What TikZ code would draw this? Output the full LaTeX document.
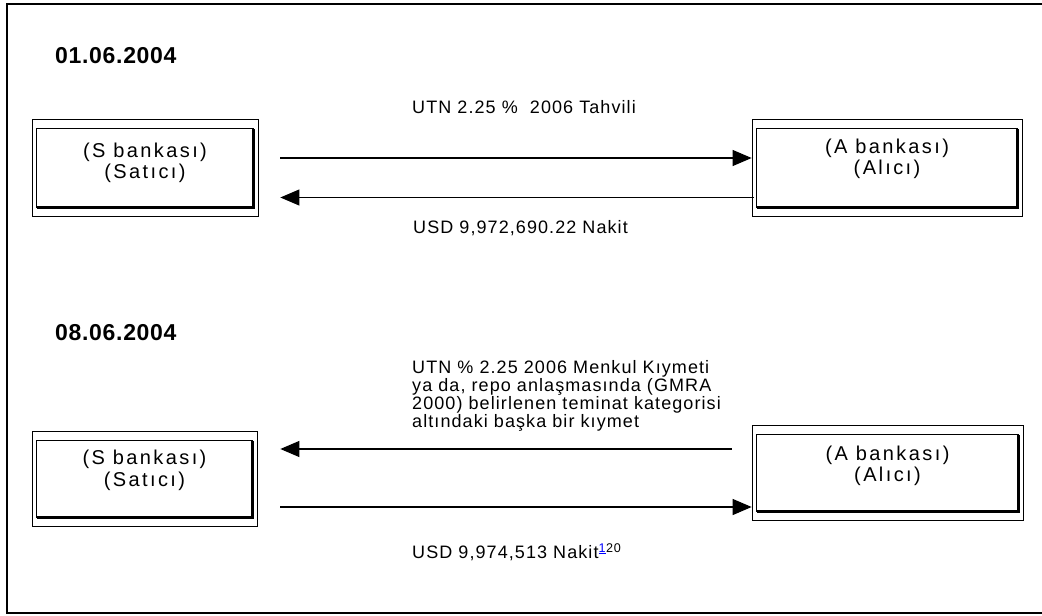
\documentclass[tikz,border=0pt]{standalone}
\usepackage{fontspec}
\setmainfont{Liberation Sans}
\newfontfamily\trackfont{Liberation Sans}[LetterSpace=6]
\newfontfamily\bankfont{Liberation Sans}[LetterSpace=12]
\newfontfamily\datefont{Liberation Sans}[LetterSpace=3]
\usetikzlibrary{positioning,arrows.meta}

\tikzset{
  outerbox/.style={draw,line width=0.7pt,inner sep=0pt},
  bankname/.style={font=\bankfont\fontsize{20}{21.5}\selectfont,align=center,inner sep=0pt},
  flow/.style={line width=1.1pt,-{Triangle[length=19pt,width=16pt]}},
  datelabel/.style={font=\datefont\bfseries\fontsize{23}{24}\selectfont,anchor=base west,inner sep=0pt},
  flowlabel/.style={font=\trackfont\fontsize{18}{16.3}\selectfont,anchor=base west,inner sep=0pt,align=left}
}

\begin{document}
\begin{tikzpicture}[x=1pt,y=-1pt]
\useasboundingbox (0,0) rectangle (1042,616);
\draw[line width=2.4pt] (1042,4) -- (7,4) -- (7,613) -- (1042,613);

% 01.06.2004
\node[datelabel] (date1) at (55,63) {01.06.2004};
\node[outerbox,minimum width=226pt,minimum height=97pt] (s1) at (145,167.5) {};
\node[outerbox,minimum width=270pt,minimum height=97pt] (a1) at (887,167.5) {};
\node[bankname] (s1name) at ([yshift=4.5pt]s1.center) {(S bankası)\\(Satıcı)};
\node[bankname] (a1name) at ([yshift=8.5pt]a1.center) {(A bankası)\\(Alıcı)};
\node[flowlabel] (bond1) at (412,113.5) {UTN 2.25 \%~~2006 Tahvili};
\node[flowlabel] (cash1) at (413,233.5) {USD 9,972,690.22 Nakit};
\draw[flow] ([xshift=22pt,yshift=9.5pt]s1.east) -- ([yshift=9.5pt]a1.west);
\draw[flow] ([xshift=2pt,yshift=-30pt]a1.west) -- ([xshift=22pt,yshift=-30pt]s1.east);

% 08.06.2004
\node[datelabel] (date2) at (55,340) {08.06.2004};
\node[outerbox,minimum width=225pt,minimum height=95pt] (s2) at (144.5,478.5) {};
\node[outerbox,minimum width=271pt,minimum height=95pt] (a2) at (887.5,472.5) {};
\node[bankname] (s2name) at ([yshift=8pt]s2.center) {(S bankası)\\(Satıcı)};
\node[bankname] (a2name) at ([yshift=6.5pt]a2.center) {(A bankası)\\(Alıcı)};
\node[flowlabel,anchor=north west] (bond2) at (412,360.5) {UTN \% 2.25 2006 Menkul Kıymeti\\ya da, repo anlaşmasında (GMRA\\2000) belirlenen teminat kategorisi\\altındaki başka bir kıymet};
\node[flowlabel] (cash2) at (412,558.5) {USD 9,974,513 Nakit\textsuperscript{\textcolor{blue}{\underline{1}}}\textsuperscript{20}};
\coordinate (bond2start) at ([xshift=-20pt,yshift=23.5pt]a2.west);
\draw[flow] (bond2start) -- ([xshift=23pt]s2.east |- bond2start);
\coordinate (cash2start) at ([xshift=23pt,yshift=-28.5pt]s2.east);
\draw[flow] (cash2start) -- (a2.west |- cash2start);

% inner frames with shadow
\foreach \b in {s1,a1,s2,a2} {
  \draw[line width=1.3pt] ([xshift=5pt,yshift=-10pt]\b.north west) rectangle ([xshift=-5pt,yshift=9pt]\b.south east);
  \draw[line width=2.6pt] ([xshift=5pt,yshift=9pt]\b.south west) -- ([xshift=-5pt,yshift=9pt]\b.south east) -- ([xshift=-5pt,yshift=-10pt]\b.north east);
}
\end{tikzpicture}
\end{document}
